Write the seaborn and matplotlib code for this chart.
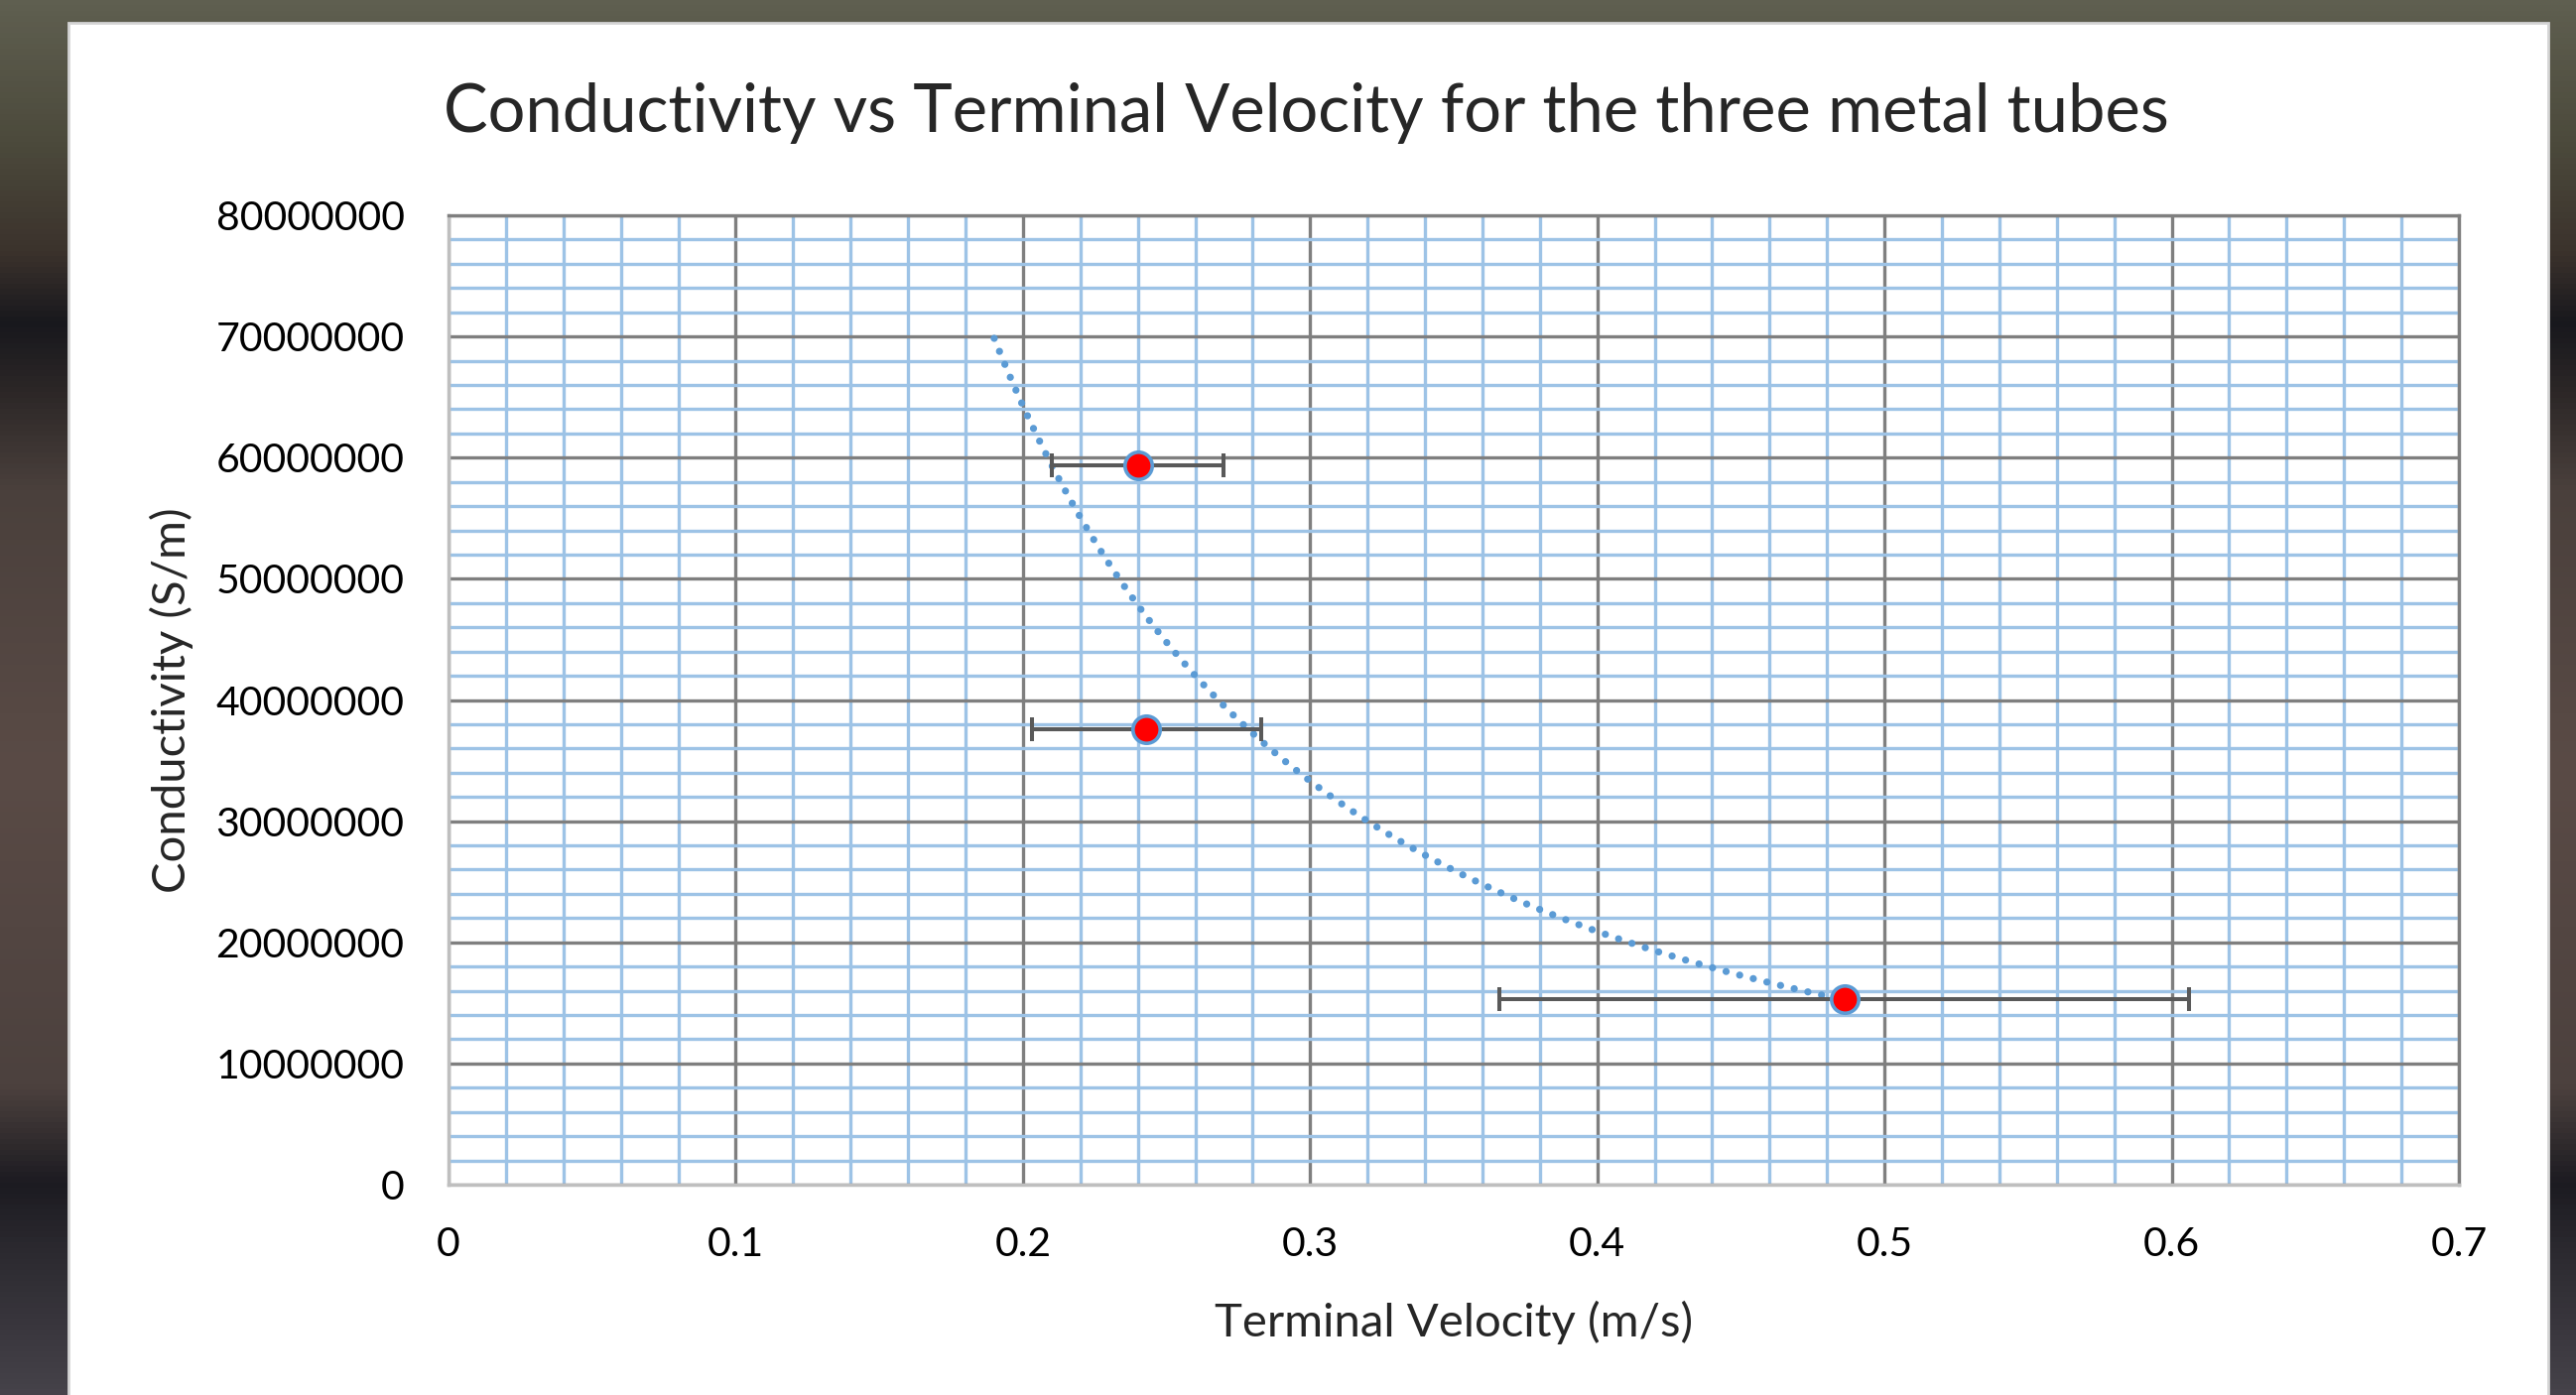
import numpy as np
import matplotlib.pyplot as plt
import seaborn as sns
from matplotlib.colors import LinearSegmentedColormap
from matplotlib.patches import Rectangle
from matplotlib.ticker import MultipleLocator, FuncFormatter

# measured tubes: terminal velocity (m/s), conductivity (S/m), velocity uncertainty
velocity = [0.240, 0.243, 0.486]
conductivity = [59.4e6, 37.6e6, 15.3e6]
velocity_err = [0.030, 0.040, 0.120]
trend_start = 0.19  # power trendline is extended backwards to here

title = 'Conductivity vs Terminal Velocity for the three metal tubes'
xlabel = 'Terminal Velocity (m/s)'
ylabel = 'Conductivity (S/m)'

sns.set_style("white")
plt.rcParams['font.family'] = ['Lato', 'DejaVu Sans']

W, H = 2596, 1406
fig = plt.figure(figsize=(W / 100, H / 100), dpi=100)

# dark photo backdrop behind the white slide
bg = fig.add_axes([0, 0, 1, 1], zorder=-2)
stops = [(0.0, '#5f5f50'), (0.10, '#4c4a3c'), (0.18, '#3b322c'), (0.23, '#18181d'),
         (0.28, '#2c2727'), (0.35, '#4a403c'), (0.55, '#5a4b46'), (0.78, '#4c413e'),
         (0.85, '#1c1b21'), (0.90, '#2c2a30'), (1.0, '#46424a')]
cmap = LinearSegmentedColormap.from_list('bg', stops)
bg.imshow(np.linspace(0, 1, 256).reshape(-1, 1), cmap=cmap, aspect='auto', extent=[0, 1, 0, 1])
bg.axis('off')

fig.add_artist(Rectangle((69 / W, -0.01), (2568 - 69) / W, 1.01 - 23 / H, transform=fig.transFigure,
                         facecolor='white', edgecolor='#d4d4d4', lw=2, zorder=-1))

ax = fig.add_axes([452 / W, 1 - 1194 / H, (2478 - 452) / W, (1194 - 217) / H])
ax.set_facecolor('white')

# power trendline fitted on the data (Excel style)
coef = np.polyfit(np.log(velocity), np.log(conductivity), 1)
xs = np.linspace(trend_start, max(velocity), 300)
ys = np.exp(np.polyval(coef, np.log(xs)))
sns.lineplot(x=xs, y=ys, ax=ax, color='#5b9bd5', lw=5.2, linestyle=(0, (0.01, 1.95)),
             dash_capstyle='round', zorder=3)

ax.errorbar(velocity, conductivity, xerr=velocity_err, fmt='none', ecolor='#595959',
            elinewidth=2.9, capsize=8.3, capthick=2.9, zorder=4)
sns.scatterplot(x=velocity, y=conductivity, ax=ax, color='#ff0000', edgecolor='#5b9bd5',
                linewidth=2.6, s=390, zorder=5)

ax.set_xlim(0, 0.7)
ax.set_ylim(0, 80e6)
ax.xaxis.set_major_locator(MultipleLocator(0.1))
ax.xaxis.set_minor_locator(MultipleLocator(0.02))
ax.yaxis.set_major_locator(MultipleLocator(10e6))
ax.yaxis.set_minor_locator(MultipleLocator(2e6))
ax.xaxis.set_major_formatter(FuncFormatter(lambda v, _: f'{v:.1f}'.rstrip('0').rstrip('.') if v else '0'))
ax.yaxis.set_major_formatter(FuncFormatter(lambda v, _: f'{v:.0f}'))
ax.grid(which='minor', color='#9dc3e6', lw=2.4)
ax.grid(which='major', color='#7f7f7f', lw=2.4)
ax.set_axisbelow(True)
ax.tick_params(which='both', length=0, labelsize=29.5, colors='black')
ax.tick_params(axis='x', pad=30)
ax.tick_params(axis='y', pad=32)
for s in ['left', 'bottom']:
    ax.spines[s].set_color('#bfbfbf')
    ax.spines[s].set_linewidth(2.5)
for s in ['top', 'right']:
    ax.spines[s].set_color('#7f7f7f')
    ax.spines[s].set_linewidth(2.4)

ax.set_xlabel(xlabel, fontsize=34)
ax.set_ylabel(ylabel, fontsize=34)
ax.xaxis.set_label_coords(0.5, -0.12)
ax.yaxis.set_label_coords(-0.127, 0.5)

fig.text(1316 / W, 1 - 114 / H, title, ha='center', va='center', fontsize=48.2)

fig.savefig('out.png', dpi=100)
